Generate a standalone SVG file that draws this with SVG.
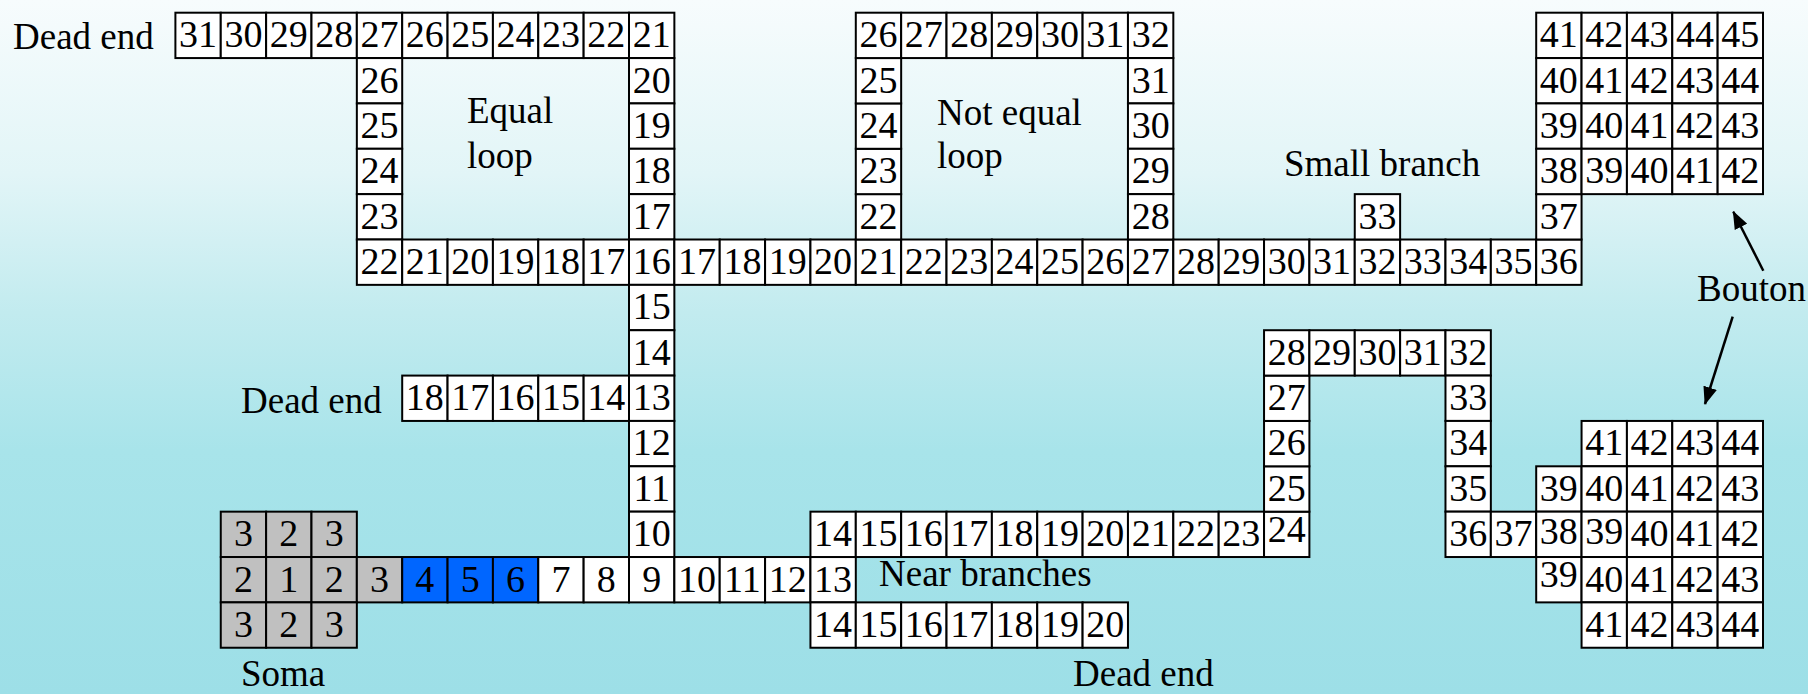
<svg xmlns="http://www.w3.org/2000/svg" width="1808" height="694" viewBox="0 0 1808 694">
<style>
.c{fill:#fff;stroke:#000;stroke-width:2}
.g{fill:#c0c0c0}
.b{fill:#0066ff}
text{font-family:"Liberation Serif","Times New Roman",serif;fill:#000}
.cells text{font-size:38px;text-anchor:middle}
.lbl{font-size:37px}
.arr{stroke:#000;stroke-width:2.5;fill:none;marker-end:url(#ah)}
</style>
<defs>
<linearGradient id="bg" x1="0" y1="0" x2="0" y2="1">
<stop offset="0" stop-color="#f7fcfd"/>
<stop offset="0.25" stop-color="#e2f5f7"/>
<stop offset="0.45" stop-color="#c2ebef"/>
<stop offset="0.65" stop-color="#a8e4ea"/>
<stop offset="1" stop-color="#9ddfe7"/>
</linearGradient>
<marker id="ah" viewBox="0 0 18 14" refX="17" refY="7" markerWidth="18" markerHeight="14" markerUnits="userSpaceOnUse" orient="auto">
<path d="M0,0 L18,7 L0,14 z" fill="#000"/>
</marker>
</defs>
<rect width="1808" height="694" fill="url(#bg)"/>

<g class="cells" transform="translate(175.4 12.7)">
<g id="dead-end-top">
<g transform="translate(0 0)"><rect class="c" width="45.36" height="45.36"/><text x="22.68" y="34.5">31</text></g>
<g transform="translate(45.36 0)"><rect class="c" width="45.36" height="45.36"/><text x="22.68" y="34.5">30</text></g>
<g transform="translate(90.72 0)"><rect class="c" width="45.36" height="45.36"/><text x="22.68" y="34.5">29</text></g>
<g transform="translate(136.08 0)"><rect class="c" width="45.36" height="45.36"/><text x="22.68" y="34.5">28</text></g>
</g>
<g id="equal-loop">
<g transform="translate(181.44 0)"><rect class="c" width="45.36" height="45.36"/><text x="22.68" y="34.5">27</text></g>
<g transform="translate(226.8 0)"><rect class="c" width="45.36" height="45.36"/><text x="22.68" y="34.5">26</text></g>
<g transform="translate(272.16 0)"><rect class="c" width="45.36" height="45.36"/><text x="22.68" y="34.5">25</text></g>
<g transform="translate(317.52 0)"><rect class="c" width="45.36" height="45.36"/><text x="22.68" y="34.5">24</text></g>
<g transform="translate(362.88 0)"><rect class="c" width="45.36" height="45.36"/><text x="22.68" y="34.5">23</text></g>
<g transform="translate(408.24 0)"><rect class="c" width="45.36" height="45.36"/><text x="22.68" y="34.5">22</text></g>
<g transform="translate(453.6 0)"><rect class="c" width="45.36" height="45.36"/><text x="22.68" y="34.5">21</text></g>
<g transform="translate(181.44 45.36)"><rect class="c" width="45.36" height="45.36"/><text x="22.68" y="34.5">26</text></g>
<g transform="translate(181.44 90.72)"><rect class="c" width="45.36" height="45.36"/><text x="22.68" y="34.5">25</text></g>
<g transform="translate(181.44 136.08)"><rect class="c" width="45.36" height="45.36"/><text x="22.68" y="34.5">24</text></g>
<g transform="translate(181.44 181.44)"><rect class="c" width="45.36" height="45.36"/><text x="22.68" y="34.5">23</text></g>
<g transform="translate(453.6 45.36)"><rect class="c" width="45.36" height="45.36"/><text x="22.68" y="34.5">20</text></g>
<g transform="translate(453.6 90.72)"><rect class="c" width="45.36" height="45.36"/><text x="22.68" y="34.5">19</text></g>
<g transform="translate(453.6 136.08)"><rect class="c" width="45.36" height="45.36"/><text x="22.68" y="34.5">18</text></g>
<g transform="translate(453.6 181.44)"><rect class="c" width="45.36" height="45.36"/><text x="22.68" y="34.5">17</text></g>
<g transform="translate(181.44 226.8)"><rect class="c" width="45.36" height="45.36"/><text x="22.68" y="34.5">22</text></g>
<g transform="translate(226.8 226.8)"><rect class="c" width="45.36" height="45.36"/><text x="22.68" y="34.5">21</text></g>
<g transform="translate(272.16 226.8)"><rect class="c" width="45.36" height="45.36"/><text x="22.68" y="34.5">20</text></g>
<g transform="translate(317.52 226.8)"><rect class="c" width="45.36" height="45.36"/><text x="22.68" y="34.5">19</text></g>
<g transform="translate(362.88 226.8)"><rect class="c" width="45.36" height="45.36"/><text x="22.68" y="34.5">18</text></g>
<g transform="translate(408.24 226.8)"><rect class="c" width="45.36" height="45.36"/><text x="22.68" y="34.5">17</text></g>
</g>
<g id="trunk">
<g transform="translate(453.6 226.8)"><rect class="c" width="45.36" height="45.36"/><text x="22.68" y="34.5">16</text></g>
<g transform="translate(453.6 272.16)"><rect class="c" width="45.36" height="45.36"/><text x="22.68" y="34.5">15</text></g>
<g transform="translate(453.6 317.52)"><rect class="c" width="45.36" height="45.36"/><text x="22.68" y="34.5">14</text></g>
<g transform="translate(453.6 362.88)"><rect class="c" width="45.36" height="45.36"/><text x="22.68" y="34.5">13</text></g>
<g transform="translate(453.6 408.24)"><rect class="c" width="45.36" height="45.36"/><text x="22.68" y="34.5">12</text></g>
<g transform="translate(453.6 453.6)"><rect class="c" width="45.36" height="45.36"/><text x="22.68" y="34.5">11</text></g>
<g transform="translate(453.6 498.96)"><rect class="c" width="45.36" height="45.36"/><text x="22.68" y="34.5">10</text></g>
<g transform="translate(498.96 226.8)"><rect class="c" width="45.36" height="45.36"/><text x="22.68" y="34.5">17</text></g>
<g transform="translate(544.32 226.8)"><rect class="c" width="45.36" height="45.36"/><text x="22.68" y="34.5">18</text></g>
<g transform="translate(589.68 226.8)"><rect class="c" width="45.36" height="45.36"/><text x="22.68" y="34.5">19</text></g>
<g transform="translate(635.04 226.8)"><rect class="c" width="45.36" height="45.36"/><text x="22.68" y="34.5">20</text></g>
</g>
<g id="dead-end-middle">
<g transform="translate(226.8 362.88)"><rect class="c" width="45.36" height="45.36"/><text x="22.68" y="34.5">18</text></g>
<g transform="translate(272.16 362.88)"><rect class="c" width="45.36" height="45.36"/><text x="22.68" y="34.5">17</text></g>
<g transform="translate(317.52 362.88)"><rect class="c" width="45.36" height="45.36"/><text x="22.68" y="34.5">16</text></g>
<g transform="translate(362.88 362.88)"><rect class="c" width="45.36" height="45.36"/><text x="22.68" y="34.5">15</text></g>
<g transform="translate(408.24 362.88)"><rect class="c" width="45.36" height="45.36"/><text x="22.68" y="34.5">14</text></g>
</g>
<g id="not-equal-loop">
<g transform="translate(680.4 226.8)"><rect class="c" width="45.36" height="45.36"/><text x="22.68" y="34.5">21</text></g>
<g transform="translate(725.76 226.8)"><rect class="c" width="45.36" height="45.36"/><text x="22.68" y="34.5">22</text></g>
<g transform="translate(771.12 226.8)"><rect class="c" width="45.36" height="45.36"/><text x="22.68" y="34.5">23</text></g>
<g transform="translate(816.48 226.8)"><rect class="c" width="45.36" height="45.36"/><text x="22.68" y="34.5">24</text></g>
<g transform="translate(861.84 226.8)"><rect class="c" width="45.36" height="45.36"/><text x="22.68" y="34.5">25</text></g>
<g transform="translate(907.2 226.8)"><rect class="c" width="45.36" height="45.36"/><text x="22.68" y="34.5">26</text></g>
<g transform="translate(952.56 226.8)"><rect class="c" width="45.36" height="45.36"/><text x="22.68" y="34.5">27</text></g>
<g transform="translate(680.4 181.44)"><rect class="c" width="45.36" height="45.36"/><text x="22.68" y="34.5">22</text></g>
<g transform="translate(680.4 136.08)"><rect class="c" width="45.36" height="45.36"/><text x="22.68" y="34.5">23</text></g>
<g transform="translate(680.4 90.72)"><rect class="c" width="45.36" height="45.36"/><text x="22.68" y="34.5">24</text></g>
<g transform="translate(680.4 45.36)"><rect class="c" width="45.36" height="45.36"/><text x="22.68" y="34.5">25</text></g>
<g transform="translate(680.4 0)"><rect class="c" width="45.36" height="45.36"/><text x="22.68" y="34.5">26</text></g>
<g transform="translate(725.76 0)"><rect class="c" width="45.36" height="45.36"/><text x="22.68" y="34.5">27</text></g>
<g transform="translate(771.12 0)"><rect class="c" width="45.36" height="45.36"/><text x="22.68" y="34.5">28</text></g>
<g transform="translate(816.48 0)"><rect class="c" width="45.36" height="45.36"/><text x="22.68" y="34.5">29</text></g>
<g transform="translate(861.84 0)"><rect class="c" width="45.36" height="45.36"/><text x="22.68" y="34.5">30</text></g>
<g transform="translate(907.2 0)"><rect class="c" width="45.36" height="45.36"/><text x="22.68" y="34.5">31</text></g>
<g transform="translate(952.56 0)"><rect class="c" width="45.36" height="45.36"/><text x="22.68" y="34.5">32</text></g>
<g transform="translate(952.56 45.36)"><rect class="c" width="45.36" height="45.36"/><text x="22.68" y="34.5">31</text></g>
<g transform="translate(952.56 90.72)"><rect class="c" width="45.36" height="45.36"/><text x="22.68" y="34.5">30</text></g>
<g transform="translate(952.56 136.08)"><rect class="c" width="45.36" height="45.36"/><text x="22.68" y="34.5">29</text></g>
<g transform="translate(952.56 181.44)"><rect class="c" width="45.36" height="45.36"/><text x="22.68" y="34.5">28</text></g>
</g>
<g id="distal-trunk">
<g transform="translate(997.92 226.8)"><rect class="c" width="45.36" height="45.36"/><text x="22.68" y="34.5">28</text></g>
<g transform="translate(1043.28 226.8)"><rect class="c" width="45.36" height="45.36"/><text x="22.68" y="34.5">29</text></g>
<g transform="translate(1088.64 226.8)"><rect class="c" width="45.36" height="45.36"/><text x="22.68" y="34.5">30</text></g>
<g transform="translate(1134 226.8)"><rect class="c" width="45.36" height="45.36"/><text x="22.68" y="34.5">31</text></g>
<g transform="translate(1179.36 226.8)"><rect class="c" width="45.36" height="45.36"/><text x="22.68" y="34.5">32</text></g>
<g transform="translate(1224.72 226.8)"><rect class="c" width="45.36" height="45.36"/><text x="22.68" y="34.5">33</text></g>
<g transform="translate(1270.08 226.8)"><rect class="c" width="45.36" height="45.36"/><text x="22.68" y="34.5">34</text></g>
<g transform="translate(1315.44 226.8)"><rect class="c" width="45.36" height="45.36"/><text x="22.68" y="34.5">35</text></g>
<g transform="translate(1360.8 226.8)"><rect class="c" width="45.36" height="45.36"/><text x="22.68" y="34.5">36</text></g>
<g transform="translate(1360.8 181.44)"><rect class="c" width="45.36" height="45.36"/><text x="22.68" y="34.5">37</text></g>
</g>
<g id="small-branch">
<g transform="translate(1179.36 181.44)"><rect class="c" width="45.36" height="45.36"/><text x="22.68" y="34.5">33</text></g>
</g>
<g id="bouton-top">
<g transform="translate(1360.8 0)"><rect class="c" width="45.36" height="45.36"/><text x="22.68" y="34.5">41</text></g>
<g transform="translate(1406.16 0)"><rect class="c" width="45.36" height="45.36"/><text x="22.68" y="34.5">42</text></g>
<g transform="translate(1451.52 0)"><rect class="c" width="45.36" height="45.36"/><text x="22.68" y="34.5">43</text></g>
<g transform="translate(1496.88 0)"><rect class="c" width="45.36" height="45.36"/><text x="22.68" y="34.5">44</text></g>
<g transform="translate(1542.24 0)"><rect class="c" width="45.36" height="45.36"/><text x="22.68" y="34.5">45</text></g>
<g transform="translate(1360.8 45.36)"><rect class="c" width="45.36" height="45.36"/><text x="22.68" y="34.5">40</text></g>
<g transform="translate(1406.16 45.36)"><rect class="c" width="45.36" height="45.36"/><text x="22.68" y="34.5">41</text></g>
<g transform="translate(1451.52 45.36)"><rect class="c" width="45.36" height="45.36"/><text x="22.68" y="34.5">42</text></g>
<g transform="translate(1496.88 45.36)"><rect class="c" width="45.36" height="45.36"/><text x="22.68" y="34.5">43</text></g>
<g transform="translate(1542.24 45.36)"><rect class="c" width="45.36" height="45.36"/><text x="22.68" y="34.5">44</text></g>
<g transform="translate(1360.8 90.72)"><rect class="c" width="45.36" height="45.36"/><text x="22.68" y="34.5">39</text></g>
<g transform="translate(1406.16 90.72)"><rect class="c" width="45.36" height="45.36"/><text x="22.68" y="34.5">40</text></g>
<g transform="translate(1451.52 90.72)"><rect class="c" width="45.36" height="45.36"/><text x="22.68" y="34.5">41</text></g>
<g transform="translate(1496.88 90.72)"><rect class="c" width="45.36" height="45.36"/><text x="22.68" y="34.5">42</text></g>
<g transform="translate(1542.24 90.72)"><rect class="c" width="45.36" height="45.36"/><text x="22.68" y="34.5">43</text></g>
<g transform="translate(1360.8 136.08)"><rect class="c" width="45.36" height="45.36"/><text x="22.68" y="34.5">38</text></g>
<g transform="translate(1406.16 136.08)"><rect class="c" width="45.36" height="45.36"/><text x="22.68" y="34.5">39</text></g>
<g transform="translate(1451.52 136.08)"><rect class="c" width="45.36" height="45.36"/><text x="22.68" y="34.5">40</text></g>
<g transform="translate(1496.88 136.08)"><rect class="c" width="45.36" height="45.36"/><text x="22.68" y="34.5">41</text></g>
<g transform="translate(1542.24 136.08)"><rect class="c" width="45.36" height="45.36"/><text x="22.68" y="34.5">42</text></g>
</g>
<g id="soma">
<g transform="translate(45.36 498.96)"><rect class="c g" width="45.36" height="45.36"/><text x="22.68" y="34.5">3</text></g>
<g transform="translate(90.72 498.96)"><rect class="c g" width="45.36" height="45.36"/><text x="22.68" y="34.5">2</text></g>
<g transform="translate(136.08 498.96)"><rect class="c g" width="45.36" height="45.36"/><text x="22.68" y="34.5">3</text></g>
<g transform="translate(45.36 544.32)"><rect class="c g" width="45.36" height="45.36"/><text x="22.68" y="34.5">2</text></g>
<g transform="translate(90.72 544.32)"><rect class="c g" width="45.36" height="45.36"/><text x="22.68" y="34.5">1</text></g>
<g transform="translate(136.08 544.32)"><rect class="c g" width="45.36" height="45.36"/><text x="22.68" y="34.5">2</text></g>
<g transform="translate(181.44 544.32)"><rect class="c g" width="45.36" height="45.36"/><text x="22.68" y="34.5">3</text></g>
<g transform="translate(45.36 589.68)"><rect class="c g" width="45.36" height="45.36"/><text x="22.68" y="34.5">3</text></g>
<g transform="translate(90.72 589.68)"><rect class="c g" width="45.36" height="45.36"/><text x="22.68" y="34.5">2</text></g>
<g transform="translate(136.08 589.68)"><rect class="c g" width="45.36" height="45.36"/><text x="22.68" y="34.5">3</text></g>
</g>
<g id="axon">
<g transform="translate(226.8 544.32)"><rect class="c b" width="45.36" height="45.36"/><text x="22.68" y="34.5">4</text></g>
<g transform="translate(272.16 544.32)"><rect class="c b" width="45.36" height="45.36"/><text x="22.68" y="34.5">5</text></g>
<g transform="translate(317.52 544.32)"><rect class="c b" width="45.36" height="45.36"/><text x="22.68" y="34.5">6</text></g>
<g transform="translate(362.88 544.32)"><rect class="c" width="45.36" height="45.36"/><text x="22.68" y="34.5">7</text></g>
<g transform="translate(408.24 544.32)"><rect class="c" width="45.36" height="45.36"/><text x="22.68" y="34.5">8</text></g>
<g transform="translate(453.6 544.32)"><rect class="c" width="45.36" height="45.36"/><text x="22.68" y="34.5">9</text></g>
<g transform="translate(498.96 544.32)"><rect class="c" width="45.36" height="45.36"/><text x="22.68" y="34.5">10</text></g>
<g transform="translate(544.32 544.32)"><rect class="c" width="45.36" height="45.36"/><text x="22.68" y="34.5">11</text></g>
<g transform="translate(589.68 544.32)"><rect class="c" width="45.36" height="45.36"/><text x="22.68" y="34.5">12</text></g>
<g transform="translate(635.04 544.32)"><rect class="c" width="45.36" height="45.36"/><text x="22.68" y="34.5">13</text></g>
</g>
<g id="near-branches">
<g transform="translate(635.04 498.96)"><rect class="c" width="45.36" height="45.36"/><text x="22.68" y="34.5">14</text></g>
<g transform="translate(680.4 498.96)"><rect class="c" width="45.36" height="45.36"/><text x="22.68" y="34.5">15</text></g>
<g transform="translate(725.76 498.96)"><rect class="c" width="45.36" height="45.36"/><text x="22.68" y="34.5">16</text></g>
<g transform="translate(771.12 498.96)"><rect class="c" width="45.36" height="45.36"/><text x="22.68" y="34.5">17</text></g>
<g transform="translate(816.48 498.96)"><rect class="c" width="45.36" height="45.36"/><text x="22.68" y="34.5">18</text></g>
<g transform="translate(861.84 498.96)"><rect class="c" width="45.36" height="45.36"/><text x="22.68" y="34.5">19</text></g>
<g transform="translate(907.2 498.96)"><rect class="c" width="45.36" height="45.36"/><text x="22.68" y="34.5">20</text></g>
<g transform="translate(952.56 498.96)"><rect class="c" width="45.36" height="45.36"/><text x="22.68" y="34.5">21</text></g>
<g transform="translate(997.92 498.96)"><rect class="c" width="45.36" height="45.36"/><text x="22.68" y="34.5">22</text></g>
<g transform="translate(1043.28 498.96)"><rect class="c" width="45.36" height="45.36"/><text x="22.68" y="34.5">23</text></g>
<g transform="translate(635.04 589.68)"><rect class="c" width="45.36" height="45.36"/><text x="22.68" y="34.5">14</text></g>
<g transform="translate(680.4 589.68)"><rect class="c" width="45.36" height="45.36"/><text x="22.68" y="34.5">15</text></g>
<g transform="translate(725.76 589.68)"><rect class="c" width="45.36" height="45.36"/><text x="22.68" y="34.5">16</text></g>
<g transform="translate(771.12 589.68)"><rect class="c" width="45.36" height="45.36"/><text x="22.68" y="34.5">17</text></g>
<g transform="translate(816.48 589.68)"><rect class="c" width="45.36" height="45.36"/><text x="22.68" y="34.5">18</text></g>
<g transform="translate(861.84 589.68)"><rect class="c" width="45.36" height="45.36"/><text x="22.68" y="34.5">19</text></g>
<g transform="translate(907.2 589.68)"><rect class="c" width="45.36" height="45.36"/><text x="22.68" y="34.5">20</text></g>
</g>
<g id="lower-branch">
<g transform="translate(1088.64 498.96)"><rect class="c" width="45.36" height="45.36"/><text x="22.68" y="30">24</text></g>
<g transform="translate(1088.64 453.6)"><rect class="c" width="45.36" height="45.36"/><text x="22.68" y="34.5">25</text></g>
<g transform="translate(1088.64 408.24)"><rect class="c" width="45.36" height="45.36"/><text x="22.68" y="34.5">26</text></g>
<g transform="translate(1088.64 362.88)"><rect class="c" width="45.36" height="45.36"/><text x="22.68" y="34.5">27</text></g>
<g transform="translate(1088.64 317.52)"><rect class="c" width="45.36" height="45.36"/><text x="22.68" y="34.5">28</text></g>
<g transform="translate(1134 317.52)"><rect class="c" width="45.36" height="45.36"/><text x="22.68" y="34.5">29</text></g>
<g transform="translate(1179.36 317.52)"><rect class="c" width="45.36" height="45.36"/><text x="22.68" y="34.5">30</text></g>
<g transform="translate(1224.72 317.52)"><rect class="c" width="45.36" height="45.36"/><text x="22.68" y="34.5">31</text></g>
<g transform="translate(1270.08 317.52)"><rect class="c" width="45.36" height="45.36"/><text x="22.68" y="34.5">32</text></g>
<g transform="translate(1270.08 362.88)"><rect class="c" width="45.36" height="45.36"/><text x="22.68" y="34.5">33</text></g>
<g transform="translate(1270.08 408.24)"><rect class="c" width="45.36" height="45.36"/><text x="22.68" y="34.5">34</text></g>
<g transform="translate(1270.08 453.6)"><rect class="c" width="45.36" height="45.36"/><text x="22.68" y="34.5">35</text></g>
<g transform="translate(1270.08 498.96)"><rect class="c" width="45.36" height="45.36"/><text x="22.68" y="34.5">36</text></g>
<g transform="translate(1315.44 498.96)"><rect class="c" width="45.36" height="45.36"/><text x="22.68" y="34.5">37</text></g>
</g>
<g id="bouton-bottom">
<g transform="translate(1406.16 408.24)"><rect class="c" width="45.36" height="45.36"/><text x="22.68" y="34.5">41</text></g>
<g transform="translate(1451.52 408.24)"><rect class="c" width="45.36" height="45.36"/><text x="22.68" y="34.5">42</text></g>
<g transform="translate(1496.88 408.24)"><rect class="c" width="45.36" height="45.36"/><text x="22.68" y="34.5">43</text></g>
<g transform="translate(1542.24 408.24)"><rect class="c" width="45.36" height="45.36"/><text x="22.68" y="34.5">44</text></g>
<g transform="translate(1360.8 453.6)"><rect class="c" width="45.36" height="45.36"/><text x="22.68" y="34.5">39</text></g>
<g transform="translate(1406.16 453.6)"><rect class="c" width="45.36" height="45.36"/><text x="22.68" y="34.5">40</text></g>
<g transform="translate(1451.52 453.6)"><rect class="c" width="45.36" height="45.36"/><text x="22.68" y="34.5">41</text></g>
<g transform="translate(1496.88 453.6)"><rect class="c" width="45.36" height="45.36"/><text x="22.68" y="34.5">42</text></g>
<g transform="translate(1542.24 453.6)"><rect class="c" width="45.36" height="45.36"/><text x="22.68" y="34.5">43</text></g>
<g transform="translate(1360.8 498.96)"><rect class="c" width="45.36" height="45.36"/><text x="22.68" y="32.5">38</text></g>
<g transform="translate(1406.16 498.96)"><rect class="c" width="45.36" height="45.36"/><text x="22.68" y="32.5">39</text></g>
<g transform="translate(1451.52 498.96)"><rect class="c" width="45.36" height="45.36"/><text x="22.68" y="34.5">40</text></g>
<g transform="translate(1496.88 498.96)"><rect class="c" width="45.36" height="45.36"/><text x="22.68" y="34.5">41</text></g>
<g transform="translate(1542.24 498.96)"><rect class="c" width="45.36" height="45.36"/><text x="22.68" y="34.5">42</text></g>
<g transform="translate(1360.8 544.32)"><rect class="c" width="45.36" height="45.36"/><text x="22.68" y="30">39</text></g>
<g transform="translate(1406.16 544.32)"><rect class="c" width="45.36" height="45.36"/><text x="22.68" y="34.5">40</text></g>
<g transform="translate(1451.52 544.32)"><rect class="c" width="45.36" height="45.36"/><text x="22.68" y="34.5">41</text></g>
<g transform="translate(1496.88 544.32)"><rect class="c" width="45.36" height="45.36"/><text x="22.68" y="34.5">42</text></g>
<g transform="translate(1542.24 544.32)"><rect class="c" width="45.36" height="45.36"/><text x="22.68" y="34.5">43</text></g>
<g transform="translate(1406.16 589.68)"><rect class="c" width="45.36" height="45.36"/><text x="22.68" y="34.5">41</text></g>
<g transform="translate(1451.52 589.68)"><rect class="c" width="45.36" height="45.36"/><text x="22.68" y="34.5">42</text></g>
<g transform="translate(1496.88 589.68)"><rect class="c" width="45.36" height="45.36"/><text x="22.68" y="34.5">43</text></g>
<g transform="translate(1542.24 589.68)"><rect class="c" width="45.36" height="45.36"/><text x="22.68" y="34.5">44</text></g>
</g>
</g>

<g id="labels" class="lbl">
<text class="lbl" x="13" y="49">Dead end</text>
<text class="lbl" x="467" y="123">Equal</text>
<text class="lbl" x="467" y="168">loop</text>
<text class="lbl" x="937" y="125">Not equal</text>
<text class="lbl" x="937" y="168">loop</text>
<text class="lbl" x="1284" y="176">Small branch</text>
<text class="lbl" x="1697" y="301">Bouton</text>
<text class="lbl" x="241" y="413">Dead end</text>
<text class="lbl" x="879" y="586">Near branches</text>
<text class="lbl" x="241" y="686">Soma</text>
<text class="lbl" x="1073" y="686">Dead end</text>
</g>

<g id="connectors">
<line class="arr" x1="1763.3" y1="270.7" x2="1733.3" y2="211.7"/>
<line class="arr" x1="1732.7" y1="316.7" x2="1705" y2="404"/>
</g>
</svg>
